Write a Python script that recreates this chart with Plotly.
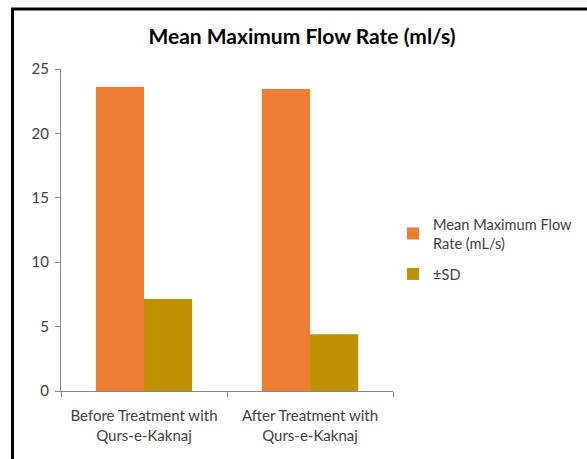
import plotly.graph_objects as go

categories = ["Before Treatment with<br>Qurs-e-Kaknaj", "After Treatment with<br>Qurs-e-Kaknaj"]
mean_flow = [23.6, 23.45]
sd_values = [7.15, 4.4]
y_ticks = [0, 5, 10, 15, 20, 25]

L, R, T, B = 61, 194, 69, 68
W, H = 587, 459
pw, ph = W - L - R, H - T - B

def px_x(x):
    return (x - L) / pw

def px_y(y):
    return (H - B - y) / ph

fig = go.Figure()
fig.add_trace(go.Bar(x=categories, y=mean_flow, name="Mean Maximum Flow<br>Rate (mL/s)",
                     legendgroup="mean",
                     marker=dict(color="#ED7D31", line=dict(width=0))))
fig.add_trace(go.Bar(x=categories, y=sd_values, name="±SD",
                     legendgroup="sd",
                     marker=dict(color="#BF9000", line=dict(width=0))))

fig.update_layout(
    width=W, height=H,
    margin=dict(l=L, r=R, t=T, b=B, autoexpand=False),
    paper_bgcolor="white", plot_bgcolor="white",
    barmode="group", bargap=0.42, bargroupgap=0,
    font=dict(family="Lato", color="#404040", size=15),
    title=dict(text="<b>Mean Maximum Flow Rate (ml/s)</b>", x=px_x(302), xref="paper", xanchor="center",
               y=1 - 37 / H, yanchor="middle", font=dict(size=21, color="black", family="Lato")),
    legend=dict(x=px_x(393), y=px_y(208), xref="paper", yref="paper", xanchor="left", yanchor="top",
                font=dict(size=14.6, color="#404040"), traceorder="grouped", tracegroupgap=9, itemwidth=30),
    showlegend=True,
    xaxis=dict(showline=True, linecolor="#868686", linewidth=1, tickson="boundaries",
               ticks="outside", ticklen=5, tickcolor="#868686", showgrid=False,
               ticklabelstandoff=11,
               tickfont=dict(size=15, color="#404040")),
    yaxis=dict(range=[0, 25], tickvals=y_ticks, showline=True, linecolor="#868686", linewidth=1,
               ticks="outside", ticklen=5, tickcolor="#868686", showgrid=False, zeroline=False,
               ticklabelstandoff=3,
               tickfont=dict(size=15, color="#404040")),
)

fig.add_shape(type="line", xref="paper", yref="paper", x0=px_x(12.5), x1=px_x(12.5), y0=px_y(8), y1=px_y(470),
              line=dict(color="black", width=3))
fig.add_shape(type="line", xref="paper", yref="paper", x0=px_x(11), x1=px_x(620), y0=px_y(9), y1=px_y(9),
              line=dict(color="black", width=3))

fig.write_html("out.html", config={"displayModeBar": False},
               post_script="document.body.style.margin='0';document.body.style.overflow='hidden';")
